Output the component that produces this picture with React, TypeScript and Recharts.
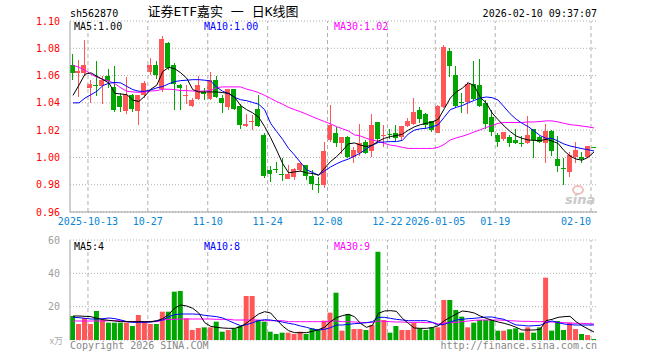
import React from "react";
import {
  ComposedChart,
  Bar,
  Line,
  XAxis,
  YAxis,
  CartesianGrid,
  ReferenceLine,
  Cell,
} from "recharts";

const dates = [
  "2025-09-30", "2025-10-09", "2025-10-10", "2025-10-13", "2025-10-14", "2025-10-15", "2025-10-16", "2025-10-17",
  "2025-10-20", "2025-10-21", "2025-10-22", "2025-10-23", "2025-10-24", "2025-10-27", "2025-10-28", "2025-10-29",
  "2025-10-30", "2025-10-31", "2025-11-03", "2025-11-04", "2025-11-05", "2025-11-06", "2025-11-07", "2025-11-10",
  "2025-11-11", "2025-11-12", "2025-11-13", "2025-11-14", "2025-11-17", "2025-11-18", "2025-11-19", "2025-11-20",
  "2025-11-21", "2025-11-24", "2025-11-25", "2025-11-26", "2025-11-27", "2025-11-28", "2025-12-01", "2025-12-02",
  "2025-12-03", "2025-12-04", "2025-12-05", "2025-12-08", "2025-12-09", "2025-12-10", "2025-12-11", "2025-12-12",
  "2025-12-15", "2025-12-16", "2025-12-17", "2025-12-18", "2025-12-19", "2025-12-22", "2025-12-23", "2025-12-24",
  "2025-12-25", "2025-12-26", "2025-12-29", "2025-12-30", "2025-12-31", "2026-01-05", "2026-01-06", "2026-01-07",
  "2026-01-08", "2026-01-09", "2026-01-12", "2026-01-13", "2026-01-14", "2026-01-15", "2026-01-16", "2026-01-19",
  "2026-01-20", "2026-01-21", "2026-01-22", "2026-01-23", "2026-01-26", "2026-01-27", "2026-01-28", "2026-01-29",
  "2026-01-30", "2026-02-02", "2026-02-03", "2026-02-04", "2026-02-05", "2026-02-06", "2026-02-09", "2026-02-10",
];

const opens = [
  1.068, 1.0617, 1.062, 1.0509, 1.0533, 1.052, 1.06, 1.0516, 1.0452, 1.0343, 1.0459, 1.0343, 1.046, 1.0625, 1.0674, 1.05,
  1.0842, 1.068, 1.0533, 1.0454, 1.0378, 1.043, 1.0477, 1.043, 1.057, 1.0437, 1.0366, 1.05, 1.0378, 1.0234, 1.0257, 1.0355,
  1.0165, 0.991, 0.9915, 0.988, 0.9845, 0.9857, 0.9906, 0.9943, 0.9864, 0.9805, 0.98, 1.0128, 1.018, 1.0104, 1.0148, 1.0,
  1.0034, 1.011, 1.005, 1.026, 1.0157, 1.0174, 1.0177, 1.0152, 1.023, 1.0245, 1.0344, 1.032, 1.0264, 1.0182, 1.0368, 1.078,
  1.0602, 1.0407, 1.0407, 1.054, 1.0533, 1.04, 1.0297, 1.0165, 1.0133, 1.0152, 1.0128, 1.0108, 1.0104, 1.021, 1.0152, 1.0108,
  1.0197, 0.9985, 0.9924, 0.9894, 1.0005, 1.0002, 1.0, 1.0078,
];
const highs = [
  1.0755, 1.0714, 1.086, 1.057, 1.071, 1.06, 1.065, 1.067, 1.047, 1.059, 1.0462, 1.046, 1.056, 1.073, 1.071, 1.0887,
  1.0845, 1.069, 1.0535, 1.0533, 1.0434, 1.0595, 1.0508, 1.0625, 1.0595, 1.046, 1.0502, 1.0502, 1.0392, 1.032, 1.0312, 1.0459,
  1.0178, 0.9936, 0.9963, 0.9993, 0.9943, 0.9926, 0.9968, 0.9945, 0.9906, 0.9856, 1.011, 1.0385, 1.022, 1.015, 1.0158, 1.0074,
  1.0245, 1.0128, 1.032, 1.0262, 1.0237, 1.0206, 1.0237, 1.0233, 1.0288, 1.0437, 1.037, 1.0322, 1.0266, 1.0382, 1.0826, 1.0805,
  1.0669, 1.0469, 1.055, 1.0706, 1.0724, 1.042, 1.0351, 1.0182, 1.0186, 1.0165, 1.0206, 1.0157, 1.0306, 1.0212, 1.0154, 1.0246,
  1.0199, 1.0157, 0.9993, 1.0042, 1.011, 1.0042, 1.0086, 1.0079,
];
const lows = [
  1.0566, 1.0444, 1.0595, 1.04, 1.045, 1.0395, 1.051, 1.0336, 1.0336, 1.0316, 1.0336, 1.024, 1.0433, 1.0607, 1.0575, 1.048,
  1.064, 1.035, 1.035, 1.0395, 1.0368, 1.0423, 1.0423, 1.0423, 1.0437, 1.0325, 1.0347, 1.0345, 1.021, 1.0222, 1.0202, 1.022,
  0.985, 0.982, 0.9887, 0.983, 0.984, 0.9833, 0.9894, 0.9833, 0.9758, 0.974, 0.9776, 1.0116, 1.0074, 1.0025, 0.9993, 0.996,
  1.001, 1.0024, 1.0, 1.0108, 1.0074, 1.0137, 1.012, 1.0125, 1.0225, 1.024, 1.025, 1.0205, 1.019, 1.0177, 1.036, 1.059,
  1.036, 1.0325, 1.032, 1.042, 1.037, 1.0212, 1.0156, 1.0077, 1.0123, 1.0079, 1.0098, 1.0079, 1.0098, 0.9998, 1.0103, 0.9956,
  1.0012, 0.989, 0.9795, 0.9857, 0.9956, 0.9956, 0.9993, 1.0072,
];
const closes = [
  1.062, 1.0632, 1.0674, 1.054, 1.052, 1.0565, 1.0558, 1.0348, 1.0373, 1.0457, 1.0355, 1.0459, 1.0546, 1.0674, 1.0602, 1.0867,
  1.0657, 1.054, 1.0509, 1.0459, 1.0422, 1.0533, 1.0467, 1.057, 1.0444, 1.04, 1.05, 1.0357, 1.0237, 1.0244, 1.0264, 1.0232,
  0.9864, 0.9876, 0.991, 0.9876, 0.988, 0.9914, 0.996, 0.9864, 0.9802, 0.98, 1.005, 1.0237, 1.0109, 1.0148, 1.0, 1.0054,
  1.0103, 1.0034, 1.0237, 1.0138, 1.0162, 1.0167, 1.014, 1.023, 1.0268, 1.033, 1.028, 1.0237, 1.02, 1.0376, 1.0812, 1.0669,
  1.0378, 1.04, 1.054, 1.0425, 1.0378, 1.0247, 1.0188, 1.0116, 1.0185, 1.0108, 1.0104, 1.0104, 1.0165, 1.0128, 1.0116, 1.0197,
  1.005, 0.9938, 0.992, 1.0017, 1.0054, 0.9988, 1.0084, 1.0075,
];

const ma5 = [
  1.0455, 1.053, 1.061, 1.062, 1.0595, 1.057, 1.0546, 1.047, 1.0465, 1.046, 1.042, 1.041, 1.045, 1.05, 1.053, 1.063,
  1.066, 1.065, 1.062, 1.058, 1.0497, 1.048, 1.048, 1.048, 1.048, 1.0475, 1.047, 1.044, 1.038, 1.035, 1.0327, 1.0295,
  1.0226, 1.0145, 1.0054, 0.9956, 0.9887, 0.9894, 0.99, 0.9887, 0.9882, 0.987, 0.992, 0.997, 1.0005, 1.005, 1.01, 1.0106,
  1.009, 1.008, 1.009, 1.012, 1.014, 1.0153, 1.016, 1.017, 1.02, 1.0224, 1.024, 1.025, 1.026, 1.028, 1.0357, 1.0435,
  1.048, 1.0507, 1.0546, 1.0527, 1.044, 1.04, 1.0325, 1.0276, 1.023, 1.019, 1.0157, 1.014, 1.0128, 1.0125, 1.0123, 1.0133,
  1.012, 1.0103, 1.005, 1.001, 0.9988, 0.998, 1.0, 1.004,
];
const ma10 = [
  1.04, 1.04, 1.0435, 1.046, 1.0485, 1.0527, 1.0544, 1.055, 1.0546, 1.052, 1.0497, 1.0485, 1.0485, 1.0495, 1.051, 1.052,
  1.054, 1.0556, 1.0563, 1.0566, 1.057, 1.057, 1.0566, 1.056, 1.0514, 1.0485, 1.0467, 1.044, 1.0423, 1.0416, 1.0403, 1.039,
  1.035, 1.025, 1.019, 1.0133, 1.0066, 1.0017, 0.9963, 0.991, 0.989, 0.987, 0.99, 0.993, 0.9953, 0.9973, 0.9988, 1.001,
  1.0032, 1.0064, 1.009, 1.011, 1.0113, 1.0116, 1.0116, 1.0125, 1.0172, 1.02, 1.021, 1.0214, 1.0224, 1.024, 1.0295, 1.035,
  1.0367, 1.038, 1.04, 1.0418, 1.0435, 1.0443, 1.0438, 1.042, 1.037, 1.032, 1.028, 1.025, 1.0226, 1.0194, 1.016, 1.014,
  1.014, 1.012, 1.0098, 1.0084, 1.0074, 1.0064, 1.0057, 1.0047,
];
const ma30 = [
  1.0677, 1.066, 1.064, 1.061, 1.0588, 1.0573, 1.056, 1.054, 1.051, 1.0485, 1.048, 1.0477, 1.048, 1.0487, 1.049, 1.05,
  1.05, 1.0497, 1.049, 1.049, 1.0487, 1.0485, 1.0487, 1.049, 1.0512, 1.0517, 1.0517, 1.0517, 1.0517, 1.05, 1.049, 1.0475,
  1.0455, 1.0433, 1.041, 1.039, 1.0367, 1.035, 1.0335, 1.0317, 1.0298, 1.028, 1.0263, 1.0246, 1.0226, 1.021, 1.0194, 1.0165,
  1.0157, 1.014, 1.0128, 1.0118, 1.0103, 1.009, 1.0084, 1.0074, 1.0066, 1.0066, 1.0066, 1.0066, 1.0066, 1.0074, 1.0096, 1.0128,
  1.0143, 1.0155, 1.017, 1.0187, 1.0202, 1.022, 1.0234, 1.025, 1.0256, 1.0256, 1.0256, 1.0256, 1.026, 1.026, 1.0263, 1.0268,
  1.0268, 1.026, 1.025, 1.024, 1.0236, 1.023, 1.0224, 1.0216,
];

const volumes = [
  14.4, 9.6, 13.2, 9.6, 17.4, 12, 10.4, 10.4, 10.4, 10.4, 8.4, 15, 11, 9.6, 9.6, 17,
  17, 29, 29.4, 13, 6, 7.2, 7.6, 7.6, 11, 5, 6, 7, 8.4, 26.4, 26.4, 12,
  11, 5, 3.6, 4.4, 4.4, 3.6, 5, 3.6, 7, 6, 11.6, 16.4, 28.4, 5.6, 15.6, 6.6,
  6.6, 6, 9, 53, 12, 4.4, 8.4, 6, 6, 10.4, 7, 6, 7.6, 7.6, 24, 24,
  18, 14, 7.6, 10.4, 12, 12, 12, 5.6, 5.6, 6.4, 7, 4.4, 7.6, 4.4, 7.6, 37.4,
  5.6, 11.4, 6, 10.4, 6.6, 3.6, 3, 0.6,
];
const vma5 = [
  14.4, 14.4, 14.2, 14, 13, 12.2, 11.8, 11.4, 11, 11, 11, 11, 11, 11, 11.6, 12.8,
  15.4, 19.2, 21, 20.4, 19, 16.2, 10.4, 8.2, 7.6, 7.2, 7, 7, 8, 10.2, 13, 15.6,
  17, 16.2, 12.2, 8.4, 5.6, 4.4, 4.4, 4.4, 5.2, 6.2, 7.6, 11, 13.4, 14.6, 15.4, 14,
  10, 7.6, 8.8, 16, 17.4, 17.6, 17.2, 13, 10, 7.2, 7, 7, 7.4, 8.6, 11.6, 13.6,
  15.6, 17.4, 17, 16.2, 14.4, 13, 11.8, 10.8, 10, 9, 7.6, 6, 6, 6, 6.4, 11.6,
  12.4, 13.6, 14, 14.2, 11, 8.6, 6.6, 4.8,
];
const vma10 = [
  13.6, 13.4, 13, 12.6, 12.6, 12.8, 13.2, 12.8, 12, 11, 10.6, 10.6, 10.6, 10.8, 11.4, 12,
  14, 15.2, 15.6, 15.6, 15.6, 15.4, 14.8, 14.4, 14, 13.2, 11.6, 10, 8.6, 9.2, 10.4, 11.6,
  12.2, 12, 11.4, 10.8, 10, 9.4, 8.4, 7.6, 6.6, 6, 6.4, 7.4, 9, 9, 9.4, 9.8,
  10, 10.4, 11, 13.6, 13.6, 13, 12.4, 12, 11.6, 11.6, 11.6, 11.6, 10.6, 9, 9.4, 10.8,
  12, 12.4, 12.8, 13, 13.4, 13.8, 13.8, 13, 12.4, 10.6, 9, 8.8, 8.4, 8.6, 8.8, 10.4,
  11.4, 10.4, 9.6, 9.2, 9, 9, 9, 9,
];
const vma30 = [
  11.4, 11.4, 11.4, 11.4, 11.4, 11.4, 11.6, 11.6, 11.6, 11, 11, 11, 11, 11, 11, 12,
  12.4, 12.4, 12.6, 12.6, 12.6, 12.6, 12.6, 12.6, 12.4, 12.4, 12.4, 12, 12, 12, 12, 12,
  11.6, 11.6, 11.6, 11.6, 11, 11, 11, 11, 11, 11, 11, 11.4, 11.4, 11, 11, 10.8,
  10.6, 10.4, 10.6, 11.4, 11.2, 11, 10.8, 10.8, 10.6, 10.6, 10.6, 10.4, 10.4, 9.6, 10.2, 10.4,
  10.6, 11, 11.4, 11.8, 12, 12, 12, 12, 11.8, 11.6, 11.4, 11.2, 11.2, 11, 11, 11,
  10.8, 10.6, 10.4, 10.2, 10, 10, 9.8, 9.6,
];

const tickDates = [
  "2025-10-13", "2025-10-27", "2025-11-10", "2025-11-24", "2025-12-08",
  "2025-12-22", "2026-01-05", "2026-01-19", "2026-02-10",
];
const fullDateTicks = ["2025-10-13", "2026-01-05"];
const priceTicks = [0.96, 0.98, 1.0, 1.02, 1.04, 1.06, 1.08, 1.1];
const volumeTicks = [0, 20, 40, 60];

const title = "证券ETF嘉实 一 日K线图";
const code = "sh562870";
const stamp = "2026-02-10 09:37:07";
const priceMaLabels = ["MA5:1.00", "MA10:1.00", "MA30:1.02"];
const volMaLabels = ["MA5:4", "MA10:8", "MA30:9"];

const RED = "#ff5757";
const GREEN = "#00a600";
const BORDER = "#a0a0a0";
const GRID = "#b0b0b0";
const MONO = "'DejaVu Sans Mono', monospace";

const data = dates.map((d, i) => ({
  date: d,
  open: opens[i],
  high: highs[i],
  low: lows[i],
  close: closes[i],
  ma5: ma5[i],
  ma10: ma10[i],
  ma30: ma30[i],
  vol: volumes[i],
  vma5: vma5[i],
  vma10: vma10[i],
  vma30: vma30[i],
}));

const Candle = (props: any) => {
  const { x, y, width, height, payload } = props;
  if (x == null || y == null || !payload) return null;
  const top = Math.min(y, y + height);
  const h = Math.abs(height);
  const range = payload.high - payload.low;
  const ratio = range > 0 ? h / range : 0;
  const yO = top + (payload.high - payload.open) * ratio;
  const yC = top + (payload.high - payload.close) * ratio;
  const up = payload.close >= payload.open;
  const color = up ? RED : GREEN;
  const cx = Math.floor(x + width / 2) + 0.5;
  const bTop = Math.min(yO, yC);
  const bH = Math.max(1, Math.abs(yO - yC));
  return (
    <g shapeRendering="crispEdges">
      <line x1={cx} x2={cx} y1={top} y2={top + h} stroke={color} strokeWidth={1} />
      <rect x={Math.floor(x)} y={bTop} width={width} height={bH} fill={color} />
    </g>
  );
};

const DateTick = (props: any) => {
  const { x, y, payload } = props;
  const v: string = payload.value;
  const label = fullDateTicks.includes(v) ? v : v.slice(5);
  const last = v === tickDates[tickDates.length - 1];
  return (
    <text
      x={x - 3}
      y={y + 5}
      textAnchor={last ? "end" : "middle"}
      fill="#0a86d4"
      fontFamily={MONO}
      fontSize={10}
    >
      {label}
    </text>
  );
};

const PriceChart = () => (
  <ComposedChart
    width={660}
    height={230}
    data={data}
    margin={{ top: 21, right: 63, bottom: 0, left: 0 }}
    barCategoryGap={0}
  >
    <CartesianGrid vertical={false} stroke={GRID} strokeDasharray="1 2" />
    {tickDates.map((d) => (
      <ReferenceLine key={d} x={d} position="start" stroke={GRID} strokeDasharray="4 3" />
    ))}
    <XAxis
      dataKey="date"
      ticks={tickDates}
      interval={0}
      tick={<DateTick />}
      tickLine={false}
      axisLine={{ stroke: BORDER }}
      height={18}
    />
    <XAxis xAxisId="top" dataKey="date" orientation="top" tick={false} tickLine={false} axisLine={{ stroke: BORDER }} height={0} />
    <YAxis
      domain={[0.96, 1.1]}
      ticks={priceTicks}
      allowDataOverflow
      tickFormatter={(v: number) => v.toFixed(2)}
      tick={{ fill: "#ff0000", fontFamily: MONO, fontSize: 10 }}
      tickLine={false}
      tickMargin={4}
      axisLine={{ stroke: BORDER }}
      width={70}
      interval={0}
    />
    <YAxis yAxisId="right" orientation="right" tick={false} tickLine={false} axisLine={{ stroke: BORDER }} width={0} />
    <Bar dataKey={(d: any) => [d.low, d.high]} barSize={5} shape={Candle} isAnimationActive={false} />
    <Line dataKey="ma30" stroke="#ff00ff" dot={false} strokeWidth={1} isAnimationActive={false} />
    <Line dataKey="ma10" stroke="#0000ff" dot={false} strokeWidth={1} isAnimationActive={false} />
    <Line dataKey="ma5" stroke="#000000" dot={false} strokeWidth={1} isAnimationActive={false} />
  </ComposedChart>
);

const VolumeChart = () => (
  <ComposedChart
    width={660}
    height={130}
    data={data}
    margin={{ top: 10, right: 63, bottom: 20, left: 0 }}
    barCategoryGap={0}
  >
    <CartesianGrid vertical={false} stroke={GRID} strokeDasharray="1 2" />
    {tickDates.map((d) => (
      <ReferenceLine key={d} x={d} position="start" stroke={GRID} strokeDasharray="4 3" />
    ))}
    <XAxis dataKey="date" ticks={tickDates} tick={false} tickLine={false} axisLine={{ stroke: BORDER }} height={0} />
    <XAxis xAxisId="top" dataKey="date" orientation="top" tick={false} tickLine={false} axisLine={{ stroke: BORDER }} height={0} />
    <YAxis
      domain={[0, 60]}
      ticks={volumeTicks}
      allowDataOverflow
      interval={0}
      tickFormatter={(v: number) => (v === 0 ? "" : String(v))}
      tick={{ fill: "#a0a0a0", fontFamily: MONO, fontSize: 10 }}
      tickLine={false}
      tickMargin={4}
      axisLine={{ stroke: BORDER }}
      width={70}
    />
    <YAxis yAxisId="right" orientation="right" tick={false} tickLine={false} axisLine={{ stroke: BORDER }} width={0} />
    <Bar dataKey="vol" barSize={5} isAnimationActive={false}>
      {data.map((d, i) => (
        <Cell key={i} fill={d.close >= d.open ? RED : GREEN} />
      ))}
    </Bar>
    <Line dataKey="vma30" stroke="#ff00ff" dot={false} strokeWidth={1} isAnimationActive={false} />
    <Line dataKey="vma10" stroke="#0000ff" dot={false} strokeWidth={1} isAnimationActive={false} />
    <Line dataKey="vma5" stroke="#000000" dot={false} strokeWidth={1} isAnimationActive={false} />
  </ComposedChart>
);

const maColors = ["#000000", "#0000ff", "#ff00ff"];
const maX = [74, 204, 334];

export default function App() {
  return (
    <div style={{ position: "absolute", left: 0, top: 0, width: 660, height: 360, background: "#fff" }}>
      <div style={{ position: "absolute", left: 0, top: 0 }}>
        <PriceChart />
      </div>
      <div style={{ position: "absolute", left: 0, top: 230 }}>
        <VolumeChart />
      </div>
      <svg width={660} height={360} style={{ position: "absolute", left: 0, top: 0, pointerEvents: "none" }}>
        <text x={70} y={16.5} fontFamily={MONO} fontSize={10} fill="#000">{code}</text>
        <text x={223} y={16} textAnchor="middle" fontFamily="'DejaVu Sans Mono', 'Noto Sans CJK SC'" fontSize={13} fill="#000">{title}</text>
        <text x={597} y={16.5} textAnchor="end" fontFamily={MONO} fontSize={10} fill="#000">{stamp}</text>
        {priceMaLabels.map((t, i) => (
          <text key={t} x={maX[i]} y={29.5} fontFamily={MONO} fontSize={10} fill={maColors[i]}>{t}</text>
        ))}
        {volMaLabels.map((t, i) => (
          <text key={t} x={maX[i]} y={249.5} fontFamily={MONO} fontSize={10} fill={maColors[i]}>{t}</text>
        ))}
        <text x={63} y={344} textAnchor="end" fontFamily="'Noto Sans CJK SC', sans-serif" fontSize={9} fill="#aaaaaa">x万</text>
        <text x={70} y={348.5} fontFamily={MONO} fontSize={10} fill="#888888">Copyright 2026 SINA.COM</text>
        <text x={597} y={348.5} textAnchor="end" fontFamily={MONO} fontSize={10} fill="#888888">http://finance.sina.com.cn</text>
        <g opacity={0.9}>
          <ellipse cx={578} cy={190} rx={5} ry={4} fill="none" stroke="#f2b8b8" strokeWidth={2} />
          <text x={565} y={204} fontFamily="'DejaVu Sans', sans-serif" fontStyle="italic" fontWeight="bold" fontSize={13} fill="#c4c4c4">sina</text>
        </g>
      </svg>
    </div>
  );
}
